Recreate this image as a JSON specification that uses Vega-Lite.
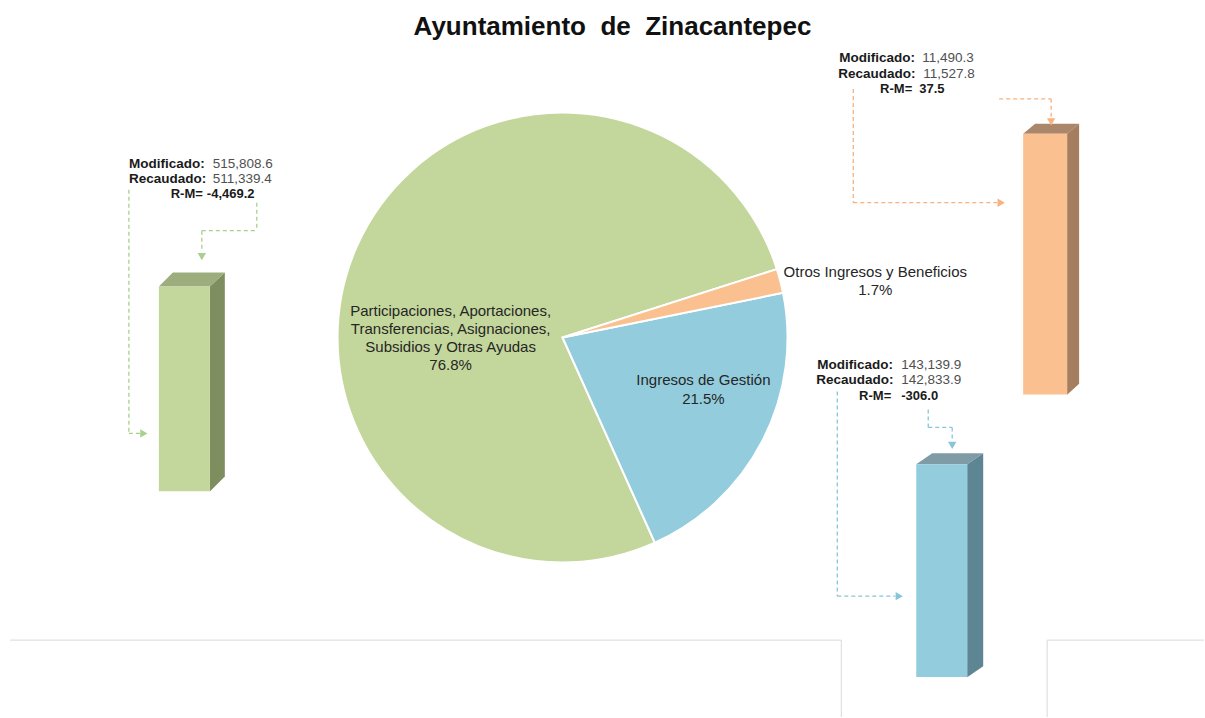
{
  "$schema": "https://vega.github.io/schema/vega-lite/v6.json",
  "width": 1205,
  "height": 718,
  "autosize": {"type": "fit", "contains": "padding"},
  "padding": 0,
  "background": "white",
  "config": {
    "view": {"stroke": null},
    "text": {"font": "Liberation Sans"},
    "locale": {"number": {"decimal": ".", "thousands": ",", "grouping": [3], "currency": ["$", ""], "minus": "-"}}
  },
  "datasets": {
    "pie": [
      {"id": "P", "categoria": "Participaciones, Aportaciones, Transferencias, Asignaciones, Subsidios y Otras Ayudas", "etiqueta": "Participaciones, Aportaciones,\nTransferencias, Asignaciones,\nSubsidios y Otras Ayudas", "modificado": 515808.6, "recaudado": 511339.4, "rm": -4469.2, "porcentaje": 0.768, "orden": 3},
      {"id": "G", "categoria": "Ingresos de Gestión", "etiqueta": "Ingresos de Gestión", "modificado": 143139.9, "recaudado": 142833.9, "rm": -306.0, "porcentaje": 0.215, "orden": 2},
      {"id": "O", "categoria": "Otros Ingresos y Beneficios", "etiqueta": "Otros Ingresos y Beneficios", "modificado": 11490.3, "recaudado": 11527.8, "rm": 37.5, "porcentaje": 0.017, "orden": 1}
    ],
    "one": [{}]
  },
  "layer": [
    {"data": {"name": "one"}, "mark": {"type": "rule", "color": "#D9D9D9", "strokeWidth": 1},
     "encoding": {"x": {"datum": 10, "type": "quantitative", "scale": {"domain": [0, 1205], "nice": false, "zero": false}, "axis": null}, "x2": {"datum": 842},
                  "y": {"datum": 641, "type": "quantitative", "scale": {"domain": [0, 718], "nice": false, "zero": false, "reverse": true}, "axis": null}}},
    {"data": {"name": "one"}, "mark": {"type": "rule", "color": "#D9D9D9", "strokeWidth": 1},
     "encoding": {"x": {"datum": 842, "type": "quantitative", "axis": null}, "y": {"datum": 641, "type": "quantitative", "axis": null}, "y2": {"datum": 718}}},
    {"data": {"name": "one"}, "mark": {"type": "rule", "color": "#D9D9D9", "strokeWidth": 1},
     "encoding": {"x": {"datum": 1048, "type": "quantitative", "axis": null}, "y": {"datum": 641, "type": "quantitative", "axis": null}, "y2": {"datum": 718}}},
    {"data": {"name": "one"}, "mark": {"type": "rule", "color": "#D9D9D9", "strokeWidth": 1},
     "encoding": {"x": {"datum": 1048, "type": "quantitative", "axis": null}, "x2": {"datum": 1205}, "y": {"datum": 641, "type": "quantitative", "axis": null}}},

    {"data": {"name": "pie"}, "mark": {"type": "arc", "outerRadius": 225, "stroke": "white", "strokeWidth": 2},
     "encoding": {
       "x": {"datum": 563, "type": "quantitative", "axis": null},
       "y": {"datum": 338, "type": "quantitative", "axis": null},
       "theta": {"field": "recaudado", "type": "quantitative", "stack": true, "scale": {"range": [1.262, 7.545]}},
       "order": {"field": "orden", "type": "quantitative", "sort": "ascending"},
       "color": {"field": "categoria", "type": "nominal", "legend": null,
                 "scale": {"domain": ["Participaciones, Aportaciones, Transferencias, Asignaciones, Subsidios y Otras Ayudas", "Ingresos de Gestión", "Otros Ingresos y Beneficios"], "range": ["#C3D69B", "#93CDDD", "#FAC090"]}},
       "tooltip": [{"field": "categoria", "type": "nominal"}, {"field": "recaudado", "type": "quantitative", "format": ",.1f"}]
     }},

    {"data": {"name": "pie"}, "transform": [{"filter": "datum.id === 'P'"}],
     "mark": {"type": "text", "lineBreak": "\n", "fontSize": 15, "lineHeight": 18, "baseline": "top", "align": "center", "color": "#262626"},
     "encoding": {"x": {"datum": 451, "type": "quantitative", "axis": null}, "y": {"datum": 304, "type": "quantitative", "axis": null}, "text": {"field": "etiqueta"}}},
    {"data": {"name": "pie"}, "transform": [{"filter": "datum.id === 'P'"}],
     "mark": {"type": "text", "fontSize": 15, "baseline": "middle", "align": "center", "color": "#262626"},
     "encoding": {"x": {"datum": 451, "type": "quantitative", "axis": null}, "y": {"datum": 366, "type": "quantitative", "axis": null}, "text": {"field": "porcentaje", "type": "quantitative", "format": ".1%"}}},
    {"data": {"name": "pie"}, "transform": [{"filter": "datum.id === 'G'"}],
     "mark": {"type": "text", "fontSize": 15, "baseline": "top", "align": "center", "color": "#262626"},
     "encoding": {"x": {"datum": 704, "type": "quantitative", "axis": null}, "y": {"datum": 374, "type": "quantitative", "axis": null}, "text": {"field": "etiqueta"}}},
    {"data": {"name": "pie"}, "transform": [{"filter": "datum.id === 'G'"}],
     "mark": {"type": "text", "fontSize": 15, "baseline": "middle", "align": "center", "color": "#262626"},
     "encoding": {"x": {"datum": 704, "type": "quantitative", "axis": null}, "y": {"datum": 400, "type": "quantitative", "axis": null}, "text": {"field": "porcentaje", "type": "quantitative", "format": ".1%"}}},
    {"data": {"name": "pie"}, "transform": [{"filter": "datum.id === 'O'"}],
     "mark": {"type": "text", "fontSize": 15, "baseline": "top", "align": "center", "color": "#262626"},
     "encoding": {"x": {"datum": 876, "type": "quantitative", "axis": null}, "y": {"datum": 265, "type": "quantitative", "axis": null}, "text": {"field": "etiqueta"}}},
    {"data": {"name": "pie"}, "transform": [{"filter": "datum.id === 'O'"}],
     "mark": {"type": "text", "fontSize": 15, "baseline": "middle", "align": "center", "color": "#262626"},
     "encoding": {"x": {"datum": 876, "type": "quantitative", "axis": null}, "y": {"datum": 290, "type": "quantitative", "axis": null}, "text": {"field": "porcentaje", "type": "quantitative", "format": ".1%"}}},

    {"data": {"name": "one"}, "mark": {"type": "point", "shape": "M0,0 L15,-14 L15,190 L0,205 Z", "size": 4, "filled": true, "opacity": 1, "color": "#7F8E5F", "strokeWidth": 0},
     "encoding": {"x": {"datum": 210, "type": "quantitative", "axis": null}, "y": {"datum": 287, "type": "quantitative", "axis": null}}},
    {"data": {"name": "one"}, "mark": {"type": "point", "shape": "M0,0 L51,0 L66,-14 L14,-14 Z", "size": 4, "filled": true, "opacity": 1, "color": "#9DAD7E", "strokeWidth": 0},
     "encoding": {"x": {"datum": 159, "type": "quantitative", "axis": null}, "y": {"datum": 287, "type": "quantitative", "axis": null}}},
    {"data": {"name": "one"}, "mark": {"type": "rect", "color": "#C3D69B"},
     "encoding": {"x": {"datum": 159, "type": "quantitative", "axis": null}, "x2": {"datum": 210}, "y": {"datum": 287, "type": "quantitative", "axis": null}, "y2": {"datum": 492}}},

    {"data": {"name": "one"}, "mark": {"type": "point", "shape": "M0,0 L12,-10 L12,250 L0,261 Z", "size": 4, "filled": true, "opacity": 1, "color": "#A47E5E", "strokeWidth": 0},
     "encoding": {"x": {"datum": 1068, "type": "quantitative", "axis": null}, "y": {"datum": 134, "type": "quantitative", "axis": null}}},
    {"data": {"name": "one"}, "mark": {"type": "point", "shape": "M0,0 L44,0 L56,-10 L12,-10 Z", "size": 4, "filled": true, "opacity": 1, "color": "#AA876B", "strokeWidth": 0},
     "encoding": {"x": {"datum": 1024, "type": "quantitative", "axis": null}, "y": {"datum": 134, "type": "quantitative", "axis": null}}},
    {"data": {"name": "one"}, "mark": {"type": "rect", "color": "#FAC090"},
     "encoding": {"x": {"datum": 1024, "type": "quantitative", "axis": null}, "x2": {"datum": 1068}, "y": {"datum": 134, "type": "quantitative", "axis": null}, "y2": {"datum": 395}}},

    {"data": {"name": "one"}, "mark": {"type": "point", "shape": "M0,0 L16,-11 L16,202 L0,213 Z", "size": 4, "filled": true, "opacity": 1, "color": "#5D8593", "strokeWidth": 0},
     "encoding": {"x": {"datum": 968, "type": "quantitative", "axis": null}, "y": {"datum": 465, "type": "quantitative", "axis": null}}},
    {"data": {"name": "one"}, "mark": {"type": "point", "shape": "M0,0 L51,0 L67,-11 L16,-11 Z", "size": 4, "filled": true, "opacity": 1, "color": "#7F9CA6", "strokeWidth": 0},
     "encoding": {"x": {"datum": 917, "type": "quantitative", "axis": null}, "y": {"datum": 465, "type": "quantitative", "axis": null}}},
    {"data": {"name": "one"}, "mark": {"type": "rect", "color": "#93CDDD"},
     "encoding": {"x": {"datum": 917, "type": "quantitative", "axis": null}, "x2": {"datum": 968}, "y": {"datum": 465, "type": "quantitative", "axis": null}, "y2": {"datum": 678}}},

    {"data": {"name": "one"}, "mark": {"type": "rule", "color": "#A9D08E", "strokeWidth": 1.3, "strokeDash": [4, 3]},
     "encoding": {"x": {"datum": 129, "type": "quantitative", "axis": null}, "y": {"datum": 190, "type": "quantitative", "axis": null}, "y2": {"datum": 434}}},
    {"data": {"name": "one"}, "mark": {"type": "rule", "color": "#A9D08E", "strokeWidth": 1.3, "strokeDash": [4, 3]},
     "encoding": {"x": {"datum": 129, "type": "quantitative", "axis": null}, "x2": {"datum": 140}, "y": {"datum": 434, "type": "quantitative", "axis": null}}},
    {"data": {"name": "one"}, "mark": {"type": "rule", "color": "#A9D08E", "strokeWidth": 1.3, "strokeDash": [4, 3]},
     "encoding": {"x": {"datum": 257, "type": "quantitative", "axis": null}, "y": {"datum": 203, "type": "quantitative", "axis": null}, "y2": {"datum": 231}}},
    {"data": {"name": "one"}, "mark": {"type": "rule", "color": "#A9D08E", "strokeWidth": 1.3, "strokeDash": [4, 3]},
     "encoding": {"x": {"datum": 202, "type": "quantitative", "axis": null}, "x2": {"datum": 257}, "y": {"datum": 231, "type": "quantitative", "axis": null}}},
    {"data": {"name": "one"}, "mark": {"type": "rule", "color": "#A9D08E", "strokeWidth": 1.3, "strokeDash": [4, 3]},
     "encoding": {"x": {"datum": 202, "type": "quantitative", "axis": null}, "y": {"datum": 231, "type": "quantitative", "axis": null}, "y2": {"datum": 252}}},
    {"data": {"name": "one"}, "mark": {"type": "point", "shape": "triangle-right", "size": 70, "filled": true, "opacity": 1, "color": "#A9D08E"},
     "encoding": {"x": {"datum": 144, "type": "quantitative", "axis": null}, "y": {"datum": 434, "type": "quantitative", "axis": null}}},
    {"data": {"name": "one"}, "mark": {"type": "point", "shape": "triangle-down", "size": 70, "filled": true, "opacity": 1, "color": "#A9D08E"},
     "encoding": {"x": {"datum": 202, "type": "quantitative", "axis": null}, "y": {"datum": 257, "type": "quantitative", "axis": null}}},

    {"data": {"name": "one"}, "mark": {"type": "rule", "color": "#F7B27E", "strokeWidth": 1.3, "strokeDash": [4, 3]},
     "encoding": {"x": {"datum": 854, "type": "quantitative", "axis": null}, "y": {"datum": 89, "type": "quantitative", "axis": null}, "y2": {"datum": 203}}},
    {"data": {"name": "one"}, "mark": {"type": "rule", "color": "#F7B27E", "strokeWidth": 1.3, "strokeDash": [4, 3]},
     "encoding": {"x": {"datum": 854, "type": "quantitative", "axis": null}, "x2": {"datum": 998}, "y": {"datum": 203, "type": "quantitative", "axis": null}}},
    {"data": {"name": "one"}, "mark": {"type": "rule", "color": "#F7B27E", "strokeWidth": 1.3, "strokeDash": [4, 3]},
     "encoding": {"x": {"datum": 1000, "type": "quantitative", "axis": null}, "x2": {"datum": 1052}, "y": {"datum": 99, "type": "quantitative", "axis": null}}},
    {"data": {"name": "one"}, "mark": {"type": "rule", "color": "#F7B27E", "strokeWidth": 1.3, "strokeDash": [4, 3]},
     "encoding": {"x": {"datum": 1052, "type": "quantitative", "axis": null}, "y": {"datum": 99, "type": "quantitative", "axis": null}, "y2": {"datum": 118}}},
    {"data": {"name": "one"}, "mark": {"type": "point", "shape": "triangle-right", "size": 70, "filled": true, "opacity": 1, "color": "#F7B27E"},
     "encoding": {"x": {"datum": 1002, "type": "quantitative", "axis": null}, "y": {"datum": 203, "type": "quantitative", "axis": null}}},
    {"data": {"name": "one"}, "mark": {"type": "point", "shape": "triangle-down", "size": 70, "filled": true, "opacity": 1, "color": "#F7B27E"},
     "encoding": {"x": {"datum": 1052, "type": "quantitative", "axis": null}, "y": {"datum": 122, "type": "quantitative", "axis": null}}},

    {"data": {"name": "one"}, "mark": {"type": "rule", "color": "#86C6DA", "strokeWidth": 1.3, "strokeDash": [4, 3]},
     "encoding": {"x": {"datum": 838, "type": "quantitative", "axis": null}, "y": {"datum": 392, "type": "quantitative", "axis": null}, "y2": {"datum": 597}}},
    {"data": {"name": "one"}, "mark": {"type": "rule", "color": "#86C6DA", "strokeWidth": 1.3, "strokeDash": [4, 3]},
     "encoding": {"x": {"datum": 838, "type": "quantitative", "axis": null}, "x2": {"datum": 896}, "y": {"datum": 597, "type": "quantitative", "axis": null}}},
    {"data": {"name": "one"}, "mark": {"type": "rule", "color": "#86C6DA", "strokeWidth": 1.3, "strokeDash": [4, 3]},
     "encoding": {"x": {"datum": 929, "type": "quantitative", "axis": null}, "y": {"datum": 410, "type": "quantitative", "axis": null}, "y2": {"datum": 428}}},
    {"data": {"name": "one"}, "mark": {"type": "rule", "color": "#86C6DA", "strokeWidth": 1.3, "strokeDash": [4, 3]},
     "encoding": {"x": {"datum": 929, "type": "quantitative", "axis": null}, "x2": {"datum": 953}, "y": {"datum": 428, "type": "quantitative", "axis": null}}},
    {"data": {"name": "one"}, "mark": {"type": "rule", "color": "#86C6DA", "strokeWidth": 1.3, "strokeDash": [4, 3]},
     "encoding": {"x": {"datum": 953, "type": "quantitative", "axis": null}, "y": {"datum": 428, "type": "quantitative", "axis": null}, "y2": {"datum": 441}}},
    {"data": {"name": "one"}, "mark": {"type": "point", "shape": "triangle-right", "size": 70, "filled": true, "opacity": 1, "color": "#86C6DA"},
     "encoding": {"x": {"datum": 900, "type": "quantitative", "axis": null}, "y": {"datum": 597, "type": "quantitative", "axis": null}}},
    {"data": {"name": "one"}, "mark": {"type": "point", "shape": "triangle-down", "size": 70, "filled": true, "opacity": 1, "color": "#86C6DA"},
     "encoding": {"x": {"datum": 953, "type": "quantitative", "axis": null}, "y": {"datum": 446, "type": "quantitative", "axis": null}}},

    {"data": {"name": "one"}, "mark": {"type": "text", "text": "Modificado:", "fontSize": 13.5, "fontWeight": "bold", "align": "left", "baseline": "middle", "color": "#1A1A1A"},
     "encoding": {"x": {"datum": 129, "type": "quantitative", "axis": null}, "y": {"datum": 164, "type": "quantitative", "axis": null}}},
    {"data": {"name": "one"}, "mark": {"type": "text", "text": "Recaudado:", "fontSize": 13.5, "fontWeight": "bold", "align": "left", "baseline": "middle", "color": "#1A1A1A"},
     "encoding": {"x": {"datum": 129, "type": "quantitative", "axis": null}, "y": {"datum": 179, "type": "quantitative", "axis": null}}},
    {"data": {"name": "one"}, "mark": {"type": "text", "text": "R-M=", "fontSize": 13, "fontWeight": "bold", "align": "right", "baseline": "middle", "color": "#1A1A1A"},
     "encoding": {"x": {"datum": 203, "type": "quantitative", "axis": null}, "y": {"datum": 194, "type": "quantitative", "axis": null}}},
    {"data": {"name": "pie"}, "transform": [{"filter": "datum.id === 'P'"}],
     "mark": {"type": "text", "fontSize": 13.5, "align": "left", "baseline": "middle", "color": "#505050"},
     "encoding": {"x": {"datum": 213, "type": "quantitative", "axis": null}, "y": {"datum": 164, "type": "quantitative", "axis": null}, "text": {"field": "modificado", "type": "quantitative", "format": ",.1f"}}},
    {"data": {"name": "pie"}, "transform": [{"filter": "datum.id === 'P'"}],
     "mark": {"type": "text", "fontSize": 13.5, "align": "left", "baseline": "middle", "color": "#505050"},
     "encoding": {"x": {"datum": 213, "type": "quantitative", "axis": null}, "y": {"datum": 179, "type": "quantitative", "axis": null}, "text": {"field": "recaudado", "type": "quantitative", "format": ",.1f"}}},
    {"data": {"name": "pie"}, "transform": [{"filter": "datum.id === 'P'"}],
     "mark": {"type": "text", "fontSize": 13, "fontWeight": "bold", "align": "left", "baseline": "middle", "color": "#1A1A1A"},
     "encoding": {"x": {"datum": 207, "type": "quantitative", "axis": null}, "y": {"datum": 194, "type": "quantitative", "axis": null}, "text": {"field": "rm", "type": "quantitative", "format": ",.1f"}}},

    {"data": {"name": "one"}, "mark": {"type": "text", "text": "Modificado:", "fontSize": 13.5, "fontWeight": "bold", "align": "left", "baseline": "middle", "color": "#1A1A1A"},
     "encoding": {"x": {"datum": 840, "type": "quantitative", "axis": null}, "y": {"datum": 58, "type": "quantitative", "axis": null}}},
    {"data": {"name": "one"}, "mark": {"type": "text", "text": "Recaudado:", "fontSize": 13.5, "fontWeight": "bold", "align": "left", "baseline": "middle", "color": "#1A1A1A"},
     "encoding": {"x": {"datum": 839, "type": "quantitative", "axis": null}, "y": {"datum": 74, "type": "quantitative", "axis": null}}},
    {"data": {"name": "one"}, "mark": {"type": "text", "text": "R-M=", "fontSize": 13, "fontWeight": "bold", "align": "right", "baseline": "middle", "color": "#1A1A1A"},
     "encoding": {"x": {"datum": 913, "type": "quantitative", "axis": null}, "y": {"datum": 89, "type": "quantitative", "axis": null}}},
    {"data": {"name": "pie"}, "transform": [{"filter": "datum.id === 'O'"}],
     "mark": {"type": "text", "fontSize": 13.5, "align": "left", "baseline": "middle", "color": "#505050"},
     "encoding": {"x": {"datum": 923, "type": "quantitative", "axis": null}, "y": {"datum": 58, "type": "quantitative", "axis": null}, "text": {"field": "modificado", "type": "quantitative", "format": ",.1f"}}},
    {"data": {"name": "pie"}, "transform": [{"filter": "datum.id === 'O'"}],
     "mark": {"type": "text", "fontSize": 13.5, "align": "left", "baseline": "middle", "color": "#505050"},
     "encoding": {"x": {"datum": 924, "type": "quantitative", "axis": null}, "y": {"datum": 74, "type": "quantitative", "axis": null}, "text": {"field": "recaudado", "type": "quantitative", "format": ",.1f"}}},
    {"data": {"name": "pie"}, "transform": [{"filter": "datum.id === 'O'"}],
     "mark": {"type": "text", "fontSize": 13, "fontWeight": "bold", "align": "left", "baseline": "middle", "color": "#1A1A1A"},
     "encoding": {"x": {"datum": 920, "type": "quantitative", "axis": null}, "y": {"datum": 89, "type": "quantitative", "axis": null}, "text": {"field": "rm", "type": "quantitative", "format": ",.1f"}}},

    {"data": {"name": "one"}, "mark": {"type": "text", "text": "Modificado:", "fontSize": 13.5, "fontWeight": "bold", "align": "left", "baseline": "middle", "color": "#1A1A1A"},
     "encoding": {"x": {"datum": 818, "type": "quantitative", "axis": null}, "y": {"datum": 366, "type": "quantitative", "axis": null}}},
    {"data": {"name": "one"}, "mark": {"type": "text", "text": "Recaudado:", "fontSize": 13.5, "fontWeight": "bold", "align": "left", "baseline": "middle", "color": "#1A1A1A"},
     "encoding": {"x": {"datum": 817, "type": "quantitative", "axis": null}, "y": {"datum": 381, "type": "quantitative", "axis": null}}},
    {"data": {"name": "one"}, "mark": {"type": "text", "text": "R-M=", "fontSize": 13, "fontWeight": "bold", "align": "right", "baseline": "middle", "color": "#1A1A1A"},
     "encoding": {"x": {"datum": 892, "type": "quantitative", "axis": null}, "y": {"datum": 397, "type": "quantitative", "axis": null}}},
    {"data": {"name": "pie"}, "transform": [{"filter": "datum.id === 'G'"}],
     "mark": {"type": "text", "fontSize": 13.5, "align": "left", "baseline": "middle", "color": "#505050"},
     "encoding": {"x": {"datum": 902, "type": "quantitative", "axis": null}, "y": {"datum": 366, "type": "quantitative", "axis": null}, "text": {"field": "modificado", "type": "quantitative", "format": ",.1f"}}},
    {"data": {"name": "pie"}, "transform": [{"filter": "datum.id === 'G'"}],
     "mark": {"type": "text", "fontSize": 13.5, "align": "left", "baseline": "middle", "color": "#505050"},
     "encoding": {"x": {"datum": 902, "type": "quantitative", "axis": null}, "y": {"datum": 381, "type": "quantitative", "axis": null}, "text": {"field": "recaudado", "type": "quantitative", "format": ",.1f"}}},
    {"data": {"name": "pie"}, "transform": [{"filter": "datum.id === 'G'"}],
     "mark": {"type": "text", "fontSize": 13, "fontWeight": "bold", "align": "left", "baseline": "middle", "color": "#1A1A1A"},
     "encoding": {"x": {"datum": 902, "type": "quantitative", "axis": null}, "y": {"datum": 397, "type": "quantitative", "axis": null}, "text": {"field": "rm", "type": "quantitative", "format": ",.1f"}}},

    {"data": {"name": "one"}, "mark": {"type": "text", "text": "Ayuntamiento \u00a0de \u00a0Zinacantepec", "fontSize": 26, "fontWeight": "bold", "align": "center", "baseline": "middle", "color": "#111111"},
     "encoding": {"x": {"datum": 613, "type": "quantitative", "axis": null}, "y": {"datum": 27, "type": "quantitative", "axis": null}}}
  ]
}
